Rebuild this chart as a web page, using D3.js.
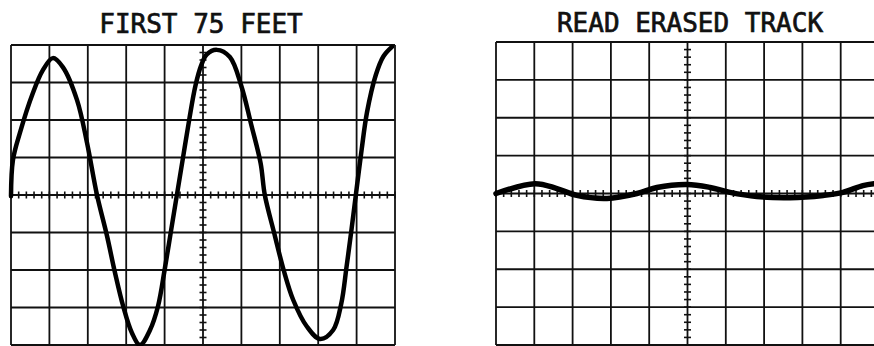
<!DOCTYPE html>
<html>
<head>
<meta charset="utf-8">
<script src="https://cdn.jsdelivr.net/npm/d3@7"></script>
<style>
  html, body { margin: 0; padding: 0; background: #fff; }
  svg { display: block; }
  .title { font-family: "DejaVu Sans Mono", monospace; font-size: 26px; fill: #111; stroke: #111; stroke-width: 0.7px; }
</style>
</head>
<body>
<svg id="chart" width="874" height="346"></svg>
<script>
// Panel titles
const titles = ["FIRST 75 FEET", "READ ERASED TRACK"];

// Graticule: 10 horizontal x 8 vertical divisions, 5 minor ticks per division on the centre axes
const xDivs = d3.range(0, 11);
const yDivs = d3.range(-4, 5);
const minorStep = 0.2;

// Trace of the first 75 feet (x in divisions, y in divisions)
const firstX = [0, 0.05, 0.23, 0.57, 0.83, 1.09, 1.35, 1.72, 1.98, 2.24, 2.5, 2.71, 2.92, 3.15, 3.36, 3.62, 3.83, 4.0, 4.16, 4.32,
  4.48, 4.64, 4.8, 4.95, 5.1, 5.36, 5.7, 6.0, 6.25, 6.5, 6.61, 6.85, 7.1, 7.35, 7.7, 8.05, 8.39, 8.6, 8.74, 8.87, 8.98,
  9.13, 9.27, 9.5, 9.7, 9.92];
const firstY = [-0.03, 0.93, 1.65, 2.72, 3.33, 3.65, 3.41, 2.53, 1.39, 0, -1.09, -2.08, -2.96, -3.68, -4.0, -3.6, -2.96, -2.0, -1.0, 0,
  1.0, 2.0, 2.9, 3.45, 3.75, 3.87, 3.68, 2.9, 1.9, 0.85, 0, -1.0, -2.0, -2.8, -3.5, -3.84, -3.6, -2.9, -1.9, -0.9, 0,
  1.2, 2.2, 3.2, 3.7, 3.95];

// Trace read from the erased track
const erasedX = [0, 1.02, 1.59, 2.11, 2.9, 3.68, 4.2, 4.99, 5.59, 6.11, 6.81, 7.68, 8.54, 9.06, 9.58, 9.87];
const erasedY = [0, 0.26, 0.13, -0.05, -0.13, 0, 0.16, 0.24, 0.16, 0.03, -0.08, -0.11, -0.05, 0.03, 0.21, 0.26];

const svg = d3.select("#chart");

function panel(cfg) {
  const x = d3.scaleLinear().domain([0, 10]).range([cfg.left, cfg.right]);
  const y = d3.scaleLinear().domain([-4, 4]).range([cfg.bottom, cfg.top]);
  const g = svg.append("g");

  // title
  g.append("text").attr("class", "title")
    .attr("x", cfg.titleX).attr("y", cfg.titleY)
    .attr("text-anchor", "middle").text(cfg.title);

  // grid lines
  g.append("g").selectAll("line").data(xDivs).join("line")
    .attr("x1", d => x(d)).attr("x2", d => x(d))
    .attr("y1", y(-4)).attr("y2", y(4))
    .attr("stroke", "#111").attr("stroke-width", 1.8);
  g.append("g").selectAll("line").data(yDivs).join("line")
    .attr("y1", d => y(d)).attr("y2", d => y(d))
    .attr("x1", x(0)).attr("x2", x(10))
    .attr("stroke", "#111").attr("stroke-width", 1.8);

  // minor ticks on the centre axes
  const hx = d3.range(0, 10 + 1e-9, minorStep);
  const vy = d3.range(-4, 4 + 1e-9, minorStep);
  g.append("g").selectAll("line").data(hx).join("line")
    .attr("x1", d => x(d)).attr("x2", d => x(d))
    .attr("y1", y(0) - 3.5).attr("y2", y(0) + 3.5)
    .attr("stroke", "#111").attr("stroke-width", 1.6);
  g.append("g").selectAll("line").data(vy).join("line")
    .attr("y1", d => y(d)).attr("y2", d => y(d))
    .attr("x1", x(5) - 3.5).attr("x2", x(5) + 3.5)
    .attr("stroke", "#111").attr("stroke-width", 1.6);

  // waveform
  const pts = cfg.xs.map((v, i) => [v, cfg.ys[i]]);
  const line = d3.line().x(d => x(d[0])).y(d => y(d[1])).curve(d3.curveCatmullRom.alpha(0.5));
  g.append("path").datum(pts)
    .attr("d", line)
    .attr("fill", "none")
    .attr("stroke", "#000")
    .attr("stroke-width", cfg.width)
    .attr("stroke-linejoin", "round")
    .attr("stroke-linecap", "round");
}

panel({ title: titles[0], titleX: 201, titleY: 33, left: 11, right: 395, top: 45, bottom: 345,
  xs: firstX, ys: firstY, width: 4.5 });
panel({ title: titles[1], titleX: 690, titleY: 32, left: 496, right: 879, top: 42, bottom: 345,
  xs: erasedX, ys: erasedY, width: 5.5 });
</script>
</body>
</html>
